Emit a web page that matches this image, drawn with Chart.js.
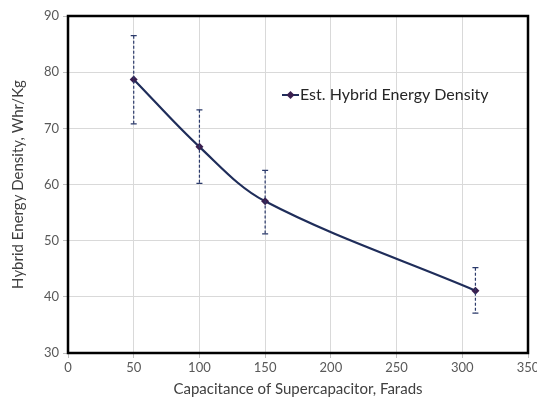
<!DOCTYPE html>
<html>
<head>
<meta charset="utf-8">
<script src="https://cdn.jsdelivr.net/npm/chart.js@4.4.1/dist/chart.umd.min.js"></script>
<style>
  html, body { margin: 0; padding: 0; background: #fff; }
  #wrap { width: 537px; height: 402px; position: relative; }
</style>
</head>
<body>
<div id="wrap"><canvas id="c"></canvas></div>
<script>
// values
const capacitance = [50, 100, 150, 310];
const energyDensity = [78.7, 66.7, 57.0, 41.1];
const errHigh = [86.5, 73.3, 62.5, 45.2];
const errLow = [70.8, 60.2, 51.2, 37.1];
const xTicks = [0, 50, 100, 150, 200, 250, 300, 350];
const yTicks = [30, 40, 50, 60, 70, 80, 90];

const FONT = 'Lato, "Open Sans", sans-serif';

// dashed error bars with caps, positioned through the chart scales
const errorBars = {
  id: 'errorBars',
  afterDatasetsDraw(chart){
    const { ctx, scales: { x, y } } = chart;
    ctx.save();
    ctx.strokeStyle = '#2b3a6b';
    ctx.lineWidth = 1.2;
    capacitance.forEach((c, i) => {
      const px = x.getPixelForValue(c);
      const top = y.getPixelForValue(errHigh[i]);
      const bot = y.getPixelForValue(errLow[i]);
      ctx.setLineDash([3, 2]);
      ctx.beginPath();
      ctx.moveTo(px, top); ctx.lineTo(px, bot);
      ctx.stroke();
      ctx.setLineDash([]);
      ctx.beginPath();
      ctx.moveTo(px - 3, top); ctx.lineTo(px + 3, top);
      ctx.moveTo(px - 3, bot); ctx.lineTo(px + 3, bot);
      ctx.stroke();
    });
    ctx.restore();
  }
};

// black frame around the plot and an in-plot legend
const frameAndLegend = {
  id: 'frameAndLegend',
  afterDraw(chart){
    const { ctx, chartArea: a } = chart;
    ctx.save();
    ctx.strokeStyle = '#000';
    ctx.lineWidth = 2.5;
    ctx.strokeRect(a.left, a.top, a.right - a.left, a.bottom - a.top);

    // legend
    const lx = 282, ly = 95;
    ctx.strokeStyle = '#1f2d5a';
    ctx.lineWidth = 2;
    ctx.beginPath();
    ctx.moveTo(lx, ly); ctx.lineTo(lx + 17, ly);
    ctx.stroke();
    ctx.fillStyle = '#3a1f4f';
    ctx.beginPath();
    ctx.moveTo(lx + 8.5, ly - 4); ctx.lineTo(lx + 12.5, ly);
    ctx.lineTo(lx + 8.5, ly + 4); ctx.lineTo(lx + 4.5, ly);
    ctx.closePath(); ctx.fill();
    ctx.fillStyle = '#262626';
    ctx.font = '16px ' + FONT;
    ctx.textBaseline = 'middle';
    ctx.fillText(chart.data.datasets[0].label, lx + 18, ly);
    ctx.restore();
  }
};

new Chart(document.getElementById('c'), {
  type: 'line',
  data: {
    datasets: [{
      label: 'Est. Hybrid Energy Density',
      data: capacitance.map((c, i) => ({ x: c, y: energyDensity[i] })),
      borderColor: '#1f2d5a',
      borderWidth: 2.2,
      tension: 0.35,
      pointStyle: 'rectRot',
      pointRadius: 4,
      pointBackgroundColor: '#3a1f4f',
      pointBorderColor: '#3a1f4f',
      pointBorderWidth: 0
    }]
  },
  options: {
    responsive: true,
    maintainAspectRatio: false,
    animation: false,
    layout: { padding: { top: 16, right: 9, left: 0, bottom: 0 } },
    plugins: {
      legend: { display: false },
      tooltip: { enabled: false }
    },
    scales: {
      x: {
        type: 'linear',
        min: 0, max: 350,
        afterBuildTicks: s => { s.ticks = xTicks.map(v => ({ value: v })); },
        afterFit: s => { s.height = 49; s.paddingLeft = 0; s.paddingRight = 0; },
        grid: { color: '#d9d9d9', tickColor: '#bfbfbf', tickLength: 5 },
        border: { display: false },
        ticks: { color: '#595959', font: { family: FONT, size: 13 }, padding: 2, maxRotation: 0 },
        title: { display: true, text: 'Capacitance of Supercapacitor, Farads', color: '#404040',
                 font: { family: FONT, size: 15 }, padding: { top: 3 } }
      },
      y: {
        min: 30, max: 90,
        afterBuildTicks: s => { s.ticks = yTicks.map(v => ({ value: v })); },
        afterFit: s => { s.width = 68; s.paddingTop = 0; s.paddingBottom = 0; },
        grid: { color: '#d9d9d9', tickColor: '#bfbfbf', tickLength: 5 },
        border: { display: false },
        ticks: { color: '#595959', font: { family: FONT, size: 13 }, padding: 4 },
        title: { display: true, text: 'Hybrid Energy Density, Whr/Kg', color: '#404040',
                 font: { family: FONT, size: 15 }, padding: { top: 9, bottom: 4 } }
      }
    }
  },
  plugins: [errorBars, frameAndLegend]
});
</script>
</body>
</html>
